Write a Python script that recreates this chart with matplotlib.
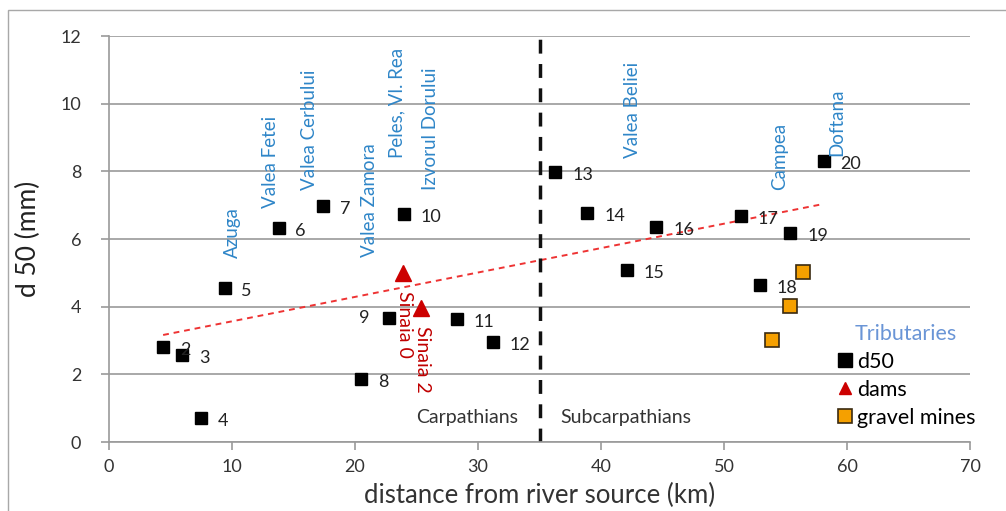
import numpy as np
import matplotlib.pyplot as plt
from matplotlib.lines import Line2D
from matplotlib.patches import Rectangle

plt.rcParams['font.family'] = ['Lato', 'DejaVu Sans']

# d50 of the main river samples (distance km, d50 mm, sample number)
dist = [4.4, 5.95, 7.5, 9.4, 13.8, 17.4, 20.5, 22.8, 24.0, 28.3, 31.2,
        36.3, 38.9, 42.1, 44.5, 51.4, 52.9, 55.4, 58.1]
d50 = [2.81, 2.57, 0.71, 4.55, 6.33, 6.98, 1.86, 3.67, 6.74, 3.64, 2.96,
       7.98, 6.77, 5.08, 6.36, 6.68, 4.64, 6.18, 8.30]
sample_no = list(range(2, 21))

# dams
dam_dist = [23.9, 25.4]
dam_d50 = [5.0, 3.96]
dam_names = ['Sinaia 0', 'Sinaia 2']

# gravel mines
mine_dist = [56.4, 55.4, 53.9]
mine_d50 = [5.03, 4.02, 3.02]

# tributary confluences (name, distance, label base height)
trib_names = ['Azuga', 'Valea Fetei', 'Valea Cerbului', 'Valea Zamora',
              'Peles, Vl. Rea', 'Izvorul Dorului', 'Valea Beliei', 'Campea', 'Doftana']
trib_dist = [10.0, 13.1, 16.3, 21.2, 23.4, 26.1, 42.6, 54.55, 59.2]
trib_y = [5.44, 6.92, 7.45, 5.47, 8.39, 7.45, 8.39, 7.45, 8.45]

boundary_km = 35

fig = plt.figure(figsize=(10.06, 5.11), dpi=100)
ax = fig.add_axes([109 / 1006, 69 / 511, 861 / 1006, 406 / 511])

# outer chart frame (only top and left visible)
fig.patches.append(Rectangle((8 / 1006, -0.2), 1.2, 1.2 - 10 / 511,
                             transform=fig.transFigure, fill=False,
                             edgecolor='#a8a8a8', lw=1.0))

ax.set_xlim(0, 70)
ax.set_ylim(0, 12)
ax.set_xticks(range(0, 71, 10))
ax.set_yticks(range(0, 13, 2))
ax.grid(axis='y', color='#9a9a9a', lw=1.2)
ax.set_axisbelow(True)
for s in ['top', 'right']:
    ax.spines[s].set_visible(False)
for s in ['left', 'bottom']:
    ax.spines[s].set_color('#9a9a9a')
    ax.spines[s].set_linewidth(1.2)
ax.tick_params(axis='both', colors='#9a9a9a', labelcolor='#333333',
               labelsize=13, length=6, width=1.2)
ax.tick_params(axis='y', direction='out', pad=14)
ax.tick_params(axis='x', pad=6)

ax.set_xlabel('distance from river source (km)', fontsize=18.5, color='#333333', labelpad=6)
ax.set_ylabel('d 50 (mm)', fontsize=19, color='#222222', labelpad=14)

# trend line
coef = np.polyfit(dist, d50, 1)
xt = np.array([min(dist), max(dist)])
ax.plot(xt, np.polyval(coef, xt), ls=(0, (3, 2.5)), color='#ee3333', lw=1.4, zorder=2)

ax.axvline(boundary_km, color='#111111', ls=(0, (4, 3)), lw=2.5, zorder=2)

ax.plot(dist, d50, 's', color='black', ms=9, zorder=3)
for x, y, n in zip(dist, d50, sample_no):
    if n == 9:
        ax.annotate(str(n), (x, y), xytext=(-14, 0), textcoords='offset points',
                    ha='right', va='center', fontsize=13, color='#222222')
    else:
        ax.annotate(str(n), (x, y), xytext=(12, -2), textcoords='offset points',
                    ha='left', va='center', fontsize=13, color='#222222')

ax.plot(dam_dist, dam_d50, '^', color='#cc0000', ms=11, zorder=3)
for x, y, name in zip(dam_dist, dam_d50, dam_names):
    ax.annotate(name, (x, y), xytext=(1, -13), textcoords='offset points',
                rotation=270, ha='center', va='top', fontsize=14, color='#c00000')

ax.plot(mine_dist, mine_d50, 's', color='#f5a000', mec='#3a2a10', mew=1.2, ms=10, zorder=3)

for name, x, y in zip(trib_names, trib_dist, trib_y):
    ax.text(x, y, name, rotation=90, ha='center', va='bottom',
            fontsize=13.5, color='#2f86c8')

ax.text(33.3, 0.71, 'Carpathians', ha='right', va='center', fontsize=14, color='#333333')
ax.text(36.7, 0.71, 'Subcarpathians', ha='left', va='center', fontsize=14, color='#333333')

handles = [
    Line2D([], [], ls='none', marker='s', color='black', ms=9.5),
    Line2D([], [], ls='none', marker='^', color='#cc0000', ms=9),
    Line2D([], [], ls='none', marker='s', color='#f5a000', mec='#3a2a10', mew=1.2, ms=10),
]
leg = ax.legend(handles, ['d50', 'dams', 'gravel mines'], title='Tributaries',
                loc='upper left', bbox_to_anchor=(0.843, 0.29), frameon=False,
                fontsize=15.5, title_fontsize=15.5, handletextpad=0.15,
                handlelength=0.9, labelspacing=0.36, borderaxespad=0,
                borderpad=0)
leg.get_title().set_color('#6a95d6')
leg._legend_box.align = 'center'

fig.savefig('out.png', dpi=100)
